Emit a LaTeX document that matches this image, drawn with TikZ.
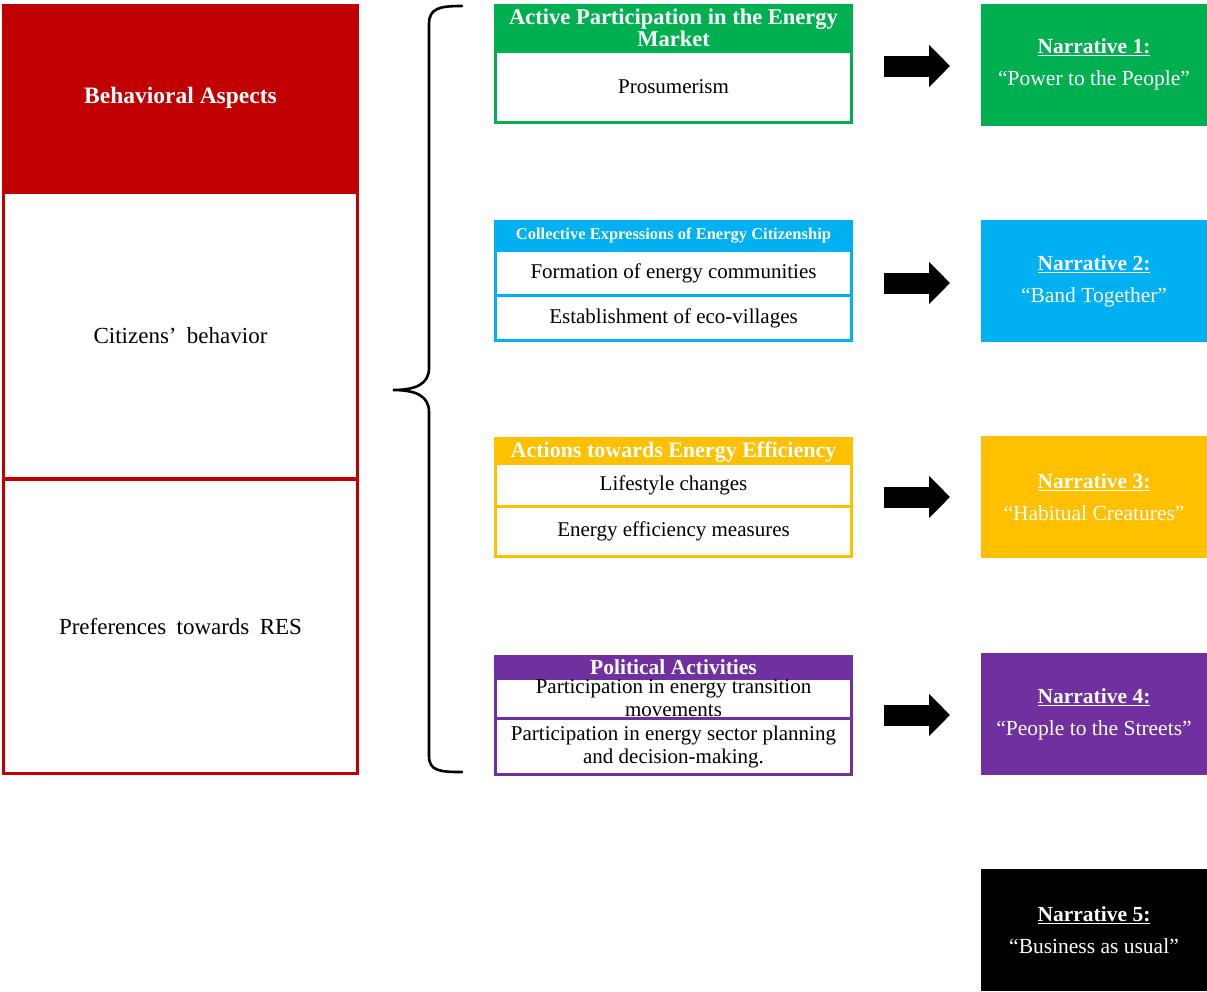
\documentclass[tikz,border=0pt]{standalone}
\usepackage{fontspec}
\setmainfont{Liberation Serif}
\usetikzlibrary{arrows.meta}
\definecolor{cred}{HTML}{C00000}
\definecolor{cgreen}{HTML}{00B050}
\definecolor{cblue}{HTML}{00B0F0}
\definecolor{cyellow}{HTML}{FFC000}
\definecolor{cpurple}{HTML}{7030A0}
\newcommand{\fs}[2]{\fontsize{#1}{#2}\selectfont}
\newcommand{\widesp}{\spaceskip=0.45em plus 0.1em\relax}
\tikzset{
  panel/.style={inner sep=0pt, outer sep=0pt, minimum width=#1},
  cell/.style={fill=white, inner sep=0pt, outer sep=0pt, align=center, font=\fs{21}{23}, text=black},
  head/.style={inner sep=0pt, outer sep=0pt, align=center, text=white, font=\bfseries\fs{21.5}{22}},
  narr/.style={inner sep=0pt, outer sep=0pt, minimum width=226pt, minimum height=122pt, align=center, text=white, font=\fs{21.5}{32}},
  bigarrow/.style={line width=21pt, -{Triangle[width=41pt,length=21pt]}, shorten <=31pt, shorten >=31pt},
  bracestyle/.style={line width=2.6pt, line cap=round}
}
\begin{document}
\begin{tikzpicture}[x=1pt,y=-1pt]
\useasboundingbox (0,0) rectangle (1207,991);
% left column
\node[panel=357pt, fill=cred, minimum height=771pt] (lft) at (180.5,389.5) {};
\node[head, font=\bfseries\fs{23.5}{24}] (ba) at (180.5,98) {Behavioral Aspects};
\node[cell, font=\fs{23}{25}, minimum width=351pt, minimum height=283pt] (cit) at (180.5,335.5) {\widesp Citizens’ behavior};
\node[cell, font=\fs{23}{25}, minimum width=351pt, minimum height=291pt] (pref) at (180.5,626.5) {\widesp Preferences towards RES};
% brace
\coordinate (bt) at (462,6);
\coordinate (bb) at (462,772);
\coordinate (btip) at (393,390);
\draw[bracestyle] (bt) .. controls (440,6) and (429,8) .. (429,24) -- (429,368)
  .. controls (429,384) and (416,390) .. (btip)
  .. controls (416,390) and (429,396) .. (429,412) -- (429,756)
  .. controls (429,771) and (440,772) .. (bb);
% green group
\node[panel=359pt, fill=cgreen, minimum height=120pt] (g) at (673.5,64) {};
\node[head, font=\bfseries\fs{22.5}{22}] (gh) at (673.5,28) {Active Participation in the Energy\\Market};
\node[cell, minimum width=353pt, minimum height=68pt] (g1) at (673.5,87) {Prosumerism};
% blue group
\node[panel=359pt, fill=cblue, minimum height=122pt] (b) at (673.5,281) {};
\node[head, font=\bfseries\fs{16.5}{18}] (bh) at (673.5,236) {Collective Expressions of Energy Citizenship};
\node[cell, minimum width=353pt, minimum height=42pt] (b1) at (673.5,273) {Formation of energy communities};
\node[cell, minimum width=353pt, minimum height=42pt] (b2) at (673.5,318) {Establishment of eco-villages};
% yellow group
\node[panel=359pt, fill=cyellow, minimum height=121pt] (y) at (673.5,497.5) {};
\node[head, font=\bfseries\fs{22}{22}] (yh) at (673.5,452) {Actions towards Energy Efficiency};
\node[cell, minimum width=353pt, minimum height=40pt] (y1) at (673.5,485) {Lifestyle changes};
\node[cell, minimum width=353pt, minimum height=47pt] (y2) at (673.5,531.5) {Energy efficiency measures};
% purple group
\node[panel=359pt, fill=cpurple, minimum height=121pt] (p) at (673.5,715.5) {};
\node[cell, minimum width=353pt, minimum height=37pt] (p1) at (673.5,698.5) {Participation in energy transition\\movements};
\node[cell, minimum width=353pt, minimum height=53pt] (p2) at (673.5,746.5) {Participation in energy sector planning\\and decision-making.};
\node[panel=359pt, fill=cpurple, minimum height=24pt] (phbg) at (673.5,667) {};
\node[head] (ph) at (673.5,667) {Political Activities};
% narratives
\node[narr, fill=cgreen] (n1) at (1094,64.5) {\textbf{\underline{Narrative 1:}}\\“Power to the People”};
\node[narr, fill=cblue] (n2) at (1094,281) {\textbf{\underline{Narrative 2:}}\\“Band Together”};
\node[narr, fill=cyellow] (n3) at (1094,497) {\textbf{\underline{Narrative 3:}}\\“Habitual Creatures”};
\node[narr, fill=cpurple] (n4) at (1094,714) {\textbf{\underline{Narrative 4:}}\\“People to the Streets”};
\node[narr, fill=black] (n5) at (1094,930) {\textbf{\underline{Narrative 5:}}\\“Business as usual”};
% arrows
\draw[bigarrow] (g.east |- 0,66) -- (n1.west |- 0,66);
\draw[bigarrow] (b.east |- 0,283) -- (n2.west |- 0,283);
\draw[bigarrow] (y.east |- 0,497) -- (n3.west |- 0,497);
\draw[bigarrow] (p.east |- 0,715) -- (n4.west |- 0,715);
\end{tikzpicture}
\end{document}
